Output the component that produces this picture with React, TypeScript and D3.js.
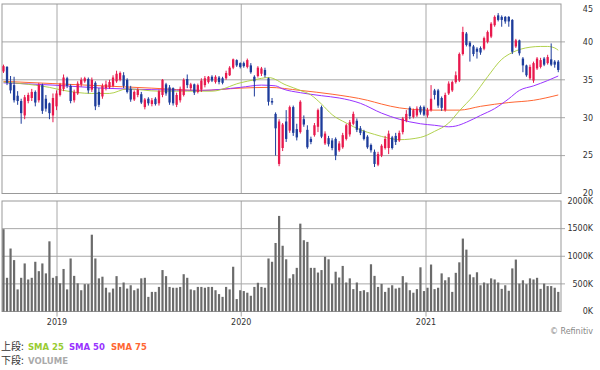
import React from 'react';
import * as d3 from 'd3';

// weekly candles, Sep 2018 - Sep 2021
const opens = [
  36.1, 36.7, 34.6, 34.3, 32.9, 32.2, 30.3, 32.2, 32.6, 33.4,
  32.3, 34.3, 32.5, 31.9, 30.3, 31.5, 33.0, 33.8, 35.2, 34.2,
  32.3, 33.2, 34.4, 34.8, 35.1, 33.7, 34.6, 33.4, 32.8, 33.9,
  34.0, 34.2, 34.8, 35.0, 35.6, 35.0, 33.8, 32.4, 33.0, 33.1,
  31.4, 32.5, 31.8, 32.5, 31.9, 33.0, 34.4, 34.0, 33.9, 31.7,
  32.3, 33.0, 35.1, 33.9, 34.4, 33.4, 33.7, 34.3, 34.7, 35.4,
  34.7, 35.3, 35.2, 35.2, 35.6, 36.6, 37.6, 37.2, 37.2, 36.7,
  36.9, 35.4, 35.5, 35.8, 36.3, 35.2, 32.2, 30.5, 23.9, 26.0,
  29.5, 28.3, 31.4, 28.5, 28.1, 29.8, 28.4, 27.2, 27.7, 28.8,
  31.4, 26.6, 27.3, 27.0, 27.2, 25.7, 26.1, 27.2, 27.8, 29.2,
  29.6, 28.6, 28.2, 27.5, 26.4, 25.5, 23.8, 25.0, 26.0, 26.0,
  27.4, 27.6, 27.0, 28.1, 29.6, 31.3, 30.1, 30.3, 31.4, 31.4,
  30.3, 31.0, 33.6, 33.6, 32.6, 31.0, 33.2, 33.6, 34.7, 34.9,
  38.4, 41.1, 39.9, 39.4, 39.1, 39.2, 39.1, 40.0, 40.7, 42.2,
  43.5, 43.3, 43.3, 43.3, 42.9, 39.4, 40.2, 37.8, 36.9, 35.2,
  34.9, 36.5, 36.7, 37.8, 37.2, 37.7, 37.4, 37.4,
];
const highs = [
  37.0, 36.8, 35.5, 35.4, 33.5, 32.5, 33.0, 33.3, 33.8, 33.6,
  34.6, 34.5, 33.0, 32.0, 33.2, 33.6, 34.6, 35.7, 35.4, 34.4,
  33.7, 34.8, 35.3, 35.4, 35.3, 35.3, 34.8, 33.9, 34.5, 34.9,
  35.0, 35.6, 36.2, 36.1, 36.0, 35.2, 34.2, 33.6, 33.9, 33.4,
  32.6, 32.7, 32.6, 32.7, 33.7, 35.1, 34.6, 34.3, 34.0, 33.3,
  34.1, 35.2, 35.7, 34.6, 34.5, 34.5, 35.2, 35.5, 35.5, 35.6,
  35.6, 35.5, 35.4, 36.2, 36.8, 37.8, 37.7, 37.3, 37.4, 37.8,
  37.2, 35.6, 36.8, 36.7, 36.6, 35.3, 32.6, 30.7, 29.8, 29.3,
  31.0, 31.6, 31.6, 29.2, 32.3, 30.3, 29.0, 27.5, 29.3, 31.2,
  31.6, 28.2, 27.6, 27.3, 27.4, 26.9, 28.0, 29.2, 29.7, 30.8,
  29.9, 28.9, 28.4, 27.7, 26.6, 25.8, 25.5, 26.5, 27.6, 28.3,
  27.6, 28.0, 28.3, 30.1, 31.0, 31.5, 31.2, 31.5, 31.6, 31.6,
  31.3, 34.3, 33.8, 33.8, 32.8, 33.3, 34.8, 34.9, 36.1, 38.6,
  42.0, 41.3, 40.1, 39.6, 39.3, 39.4, 40.7, 41.5, 42.6, 43.5,
  43.8, 43.5, 43.4, 43.4, 43.0, 40.4, 40.3, 38.0, 37.0, 37.0,
  37.4, 38.0, 37.9, 38.0, 38.3, 39.8, 37.6, 37.6,
];
const lows = [
  35.9, 34.3, 33.2, 32.0, 31.7, 29.2, 29.8, 31.9, 32.2, 31.5,
  32.0, 30.5, 30.8, 29.8, 29.4, 31.0, 32.8, 33.5, 33.9, 31.9,
  32.0, 33.0, 34.1, 34.6, 33.2, 33.4, 31.0, 31.4, 32.5, 33.6,
  33.8, 34.0, 34.6, 34.8, 33.9, 33.2, 32.1, 32.2, 32.7, 31.8,
  31.1, 31.6, 31.5, 31.6, 31.6, 32.7, 32.9, 31.7, 31.6, 31.4,
  32.0, 32.8, 33.9, 33.6, 33.0, 33.2, 33.4, 34.0, 34.5, 34.7,
  34.5, 34.4, 34.4, 35.0, 35.5, 36.4, 36.7, 36.5, 36.6, 36.5,
  35.8, 32.8, 35.3, 35.5, 35.3, 31.6, 31.7, 25.0, 23.6, 25.6,
  26.8, 28.0, 27.6, 27.0, 27.9, 28.8, 25.9, 26.5, 27.5, 28.1,
  27.3, 26.4, 26.2, 25.7, 24.4, 25.5, 25.9, 27.0, 27.5, 29.0,
  28.1, 27.7, 27.0, 25.9, 25.4, 23.5, 23.6, 24.8, 25.8, 25.2,
  25.8, 26.4, 26.8, 27.8, 29.4, 29.8, 29.9, 30.1, 30.4, 30.2,
  30.0, 30.8, 32.4, 31.3, 30.9, 30.8, 33.0, 33.4, 34.5, 34.7,
  38.2, 39.4, 37.4, 38.1, 37.8, 38.3, 38.9, 39.8, 40.5, 42.0,
  42.7, 42.0, 42.4, 42.0, 38.4, 39.2, 38.2, 36.0, 35.4, 35.0,
  34.6, 36.3, 36.5, 36.8, 37.0, 36.8, 36.6, 36.0,
];
const closes = [
  36.8, 34.6, 33.6, 32.3, 32.2, 30.6, 32.7, 33.0, 33.4, 32.0,
  34.3, 30.9, 31.2, 30.6, 32.6, 33.2, 34.4, 35.3, 34.2, 32.2,
  33.4, 34.5, 35.0, 35.2, 33.6, 35.0, 31.5, 31.7, 34.2, 34.4,
  34.7, 35.3, 35.8, 35.9, 34.2, 33.4, 32.4, 33.4, 33.7, 32.0,
  32.4, 31.9, 32.3, 31.8, 33.5, 35.0, 33.2, 32.0, 31.9, 33.0,
  33.8, 35.0, 34.3, 34.4, 33.3, 34.3, 34.9, 35.2, 35.4, 34.9,
  35.4, 34.7, 34.6, 35.9, 36.6, 37.7, 36.9, 36.7, 36.8, 37.6,
  36.0, 34.8, 36.6, 36.5, 35.6, 32.1, 32.0, 28.6, 29.5, 29.1,
  27.2, 31.4, 28.0, 27.4, 32.1, 29.1, 26.1, 26.8, 29.0, 31.0,
  27.5, 27.9, 26.5, 26.0, 25.0, 26.6, 27.7, 29.0, 29.4, 30.5,
  28.4, 28.0, 27.2, 26.1, 25.7, 23.9, 25.2, 26.3, 27.2, 27.9,
  26.0, 26.8, 28.0, 29.9, 30.5, 30.2, 31.0, 31.2, 30.7, 30.4,
  31.0, 32.5, 33.0, 31.6, 31.3, 33.0, 34.5, 34.7, 35.6, 38.4,
  41.3, 39.6, 39.4, 38.4, 38.7, 38.6, 40.5, 41.3, 42.4, 43.3,
  42.9, 42.9, 42.7, 42.7, 38.7, 40.2, 38.5, 36.9, 35.6, 36.7,
  37.2, 37.8, 37.6, 37.0, 38.0, 37.0, 37.0, 36.3,
];
// volume in thousands of shares
const volumes = [
  1490, 610, 1140, 930, 400, 610, 870, 580, 610, 900,
  730, 870, 690, 1270, 610, 640, 510, 770, 400, 960,
  645, 510, 385, 495, 495, 1390, 960, 600, 630, 430,
  345, 415, 640, 445, 525, 415, 475, 385, 415, 600,
  610, 265, 355, 355, 445, 750, 640, 445, 430, 430,
  445, 675, 610, 400, 385, 445, 445, 430, 445, 445,
  385, 315, 265, 445, 400, 810, 225, 385, 370, 340,
  285, 445, 520, 445, 430, 960, 900, 1240, 1730, 1190,
  945, 600, 675, 790, 1590, 1290, 1260, 790, 790, 705,
  750, 990, 945, 505, 720, 615, 825, 525, 600, 405,
  525, 370, 385, 350, 855, 645, 445, 500, 355, 430,
  475, 415, 430, 640, 525, 385, 340, 405, 800, 370,
  430, 850, 405, 430, 690, 565, 620, 355, 700, 890,
  1320, 1120, 670, 620, 710, 475, 525, 505, 600, 580,
  525, 410, 475, 375, 780, 940, 505, 565, 495, 600,
  580, 610, 410, 505, 460, 460, 430, 355,
];

// moving averages: [week index, value]
const sma25 = [
  [0, 34.7], [5, 34.5], [13, 34.0], [17, 33.6], [25, 33.2], [30, 33.2],
  [35, 33.8], [44, 33.5], [52, 33.5], [59, 33.5], [67, 34.6], [71, 35.0],
  [75, 35.3], [80, 34.3], [84, 33.6], [87, 33.0], [90, 31.8], [93, 30.4],
  [97, 29.3], [101, 28.4], [105, 27.8], [109, 27.3], [112, 27.1], [118, 27.4],
  [122, 28.2], [126, 29.3], [129, 30.9], [133, 32.9], [137, 35.4], [141, 37.7],
  [144, 38.6], [149, 39.3], [152, 39.4], [154, 39.4], [156, 39.2], [157, 38.9],
];
const sma50 = [
  [0, 34.6], [14, 34.3], [28, 33.9], [42, 33.7], [56, 33.6], [67, 34.0],
  [73, 34.3], [77, 34.2], [79, 33.8], [84, 33.3], [90, 32.9], [95, 32.6],
  [101, 31.9], [107, 30.6], [112, 29.8], [118, 29.2], [122, 29.0], [126, 28.8],
  [128, 28.9], [131, 29.4], [135, 30.3], [139, 31.2], [143, 32.5], [146, 33.6],
  [150, 34.2], [154, 34.9], [157, 35.5],
];
const sma75 = [
  [0, 34.8], [14, 34.5], [28, 34.2], [42, 33.9], [56, 33.6], [67, 33.9],
  [75, 34.0], [84, 33.6], [93, 33.1], [103, 32.3], [107, 31.8], [112, 31.3],
  [121, 31.0], [129, 31.0], [135, 31.5], [143, 32.0], [150, 32.3], [157, 33.0],
];

const priceTicks = [20, 25, 30, 35, 40, 45];
const volumeTicks = [0, 500, 1000, 1500, 2000];
const yearTicks = [2019, 2020, 2021];

const weeks = d3.timeMonday.range(new Date(2018, 8, 17), new Date(2021, 8, 21));

const RED = '#e8194d';
const BLUE = '#1d3c9b';
const GRID = '#a8a8a8';
const FONT = 'DejaVu Sans, Verdana, sans-serif';

export default function App() {
  const left = 2;
  const right = 561;
  const x = d3.scaleTime()
    .domain([new Date(2019, 0, 1), new Date(2021, 0, 1)])
    .range([57, 426]);
  const yP = d3.scaleLinear().domain([20, 45]).range([193.5, 4]);
  const yV = d3.scaleLinear().domain([0, 2000]).range([311.5, 201]);

  const smaLine = d3.line<number[]>()
    .x(d => x(weeks[d[0]]))
    .y(d => yP(d[1]))
    .curve(d3.curveMonotoneX);

  const bodyW = 2.3;

  return (
    <svg width={600} height={370} style={{ position: 'absolute', left: 0, top: 0, background: '#fff' }}>
      {/* grid */}
      {priceTicks.filter(t => t > 20 && t < 45).map(t => (
        <line key={'pg' + t} x1={left} x2={right + 4} y1={yP(t)} y2={yP(t)} stroke={GRID} strokeWidth={1} />
      ))}
      {volumeTicks.filter(t => t > 0 && t < 2000).map(t => (
        <line key={'vg' + t} x1={left} x2={right + 4} y1={yV(t)} y2={yV(t)} stroke={GRID} strokeWidth={1} />
      ))}
      {yearTicks.map(yr => {
        const xx = x(new Date(yr, 0, 1));
        return (
          <g key={'yr' + yr}>
            <line x1={xx} x2={xx} y1={yP(45)} y2={yP(20)} stroke={GRID} strokeWidth={1} />
            <line x1={xx} x2={xx} y1={yV(2000)} y2={yV(0) + 5} stroke={GRID} strokeWidth={1} />
          </g>
        );
      })}
      {/* frames */}
      <rect x={left} y={yP(45)} width={right - left} height={yP(20) - yP(45)} fill="none" stroke="#999" strokeWidth={1} />
      <rect x={left} y={yV(2000)} width={right - left} height={yV(0) - yV(2000)} fill="none" stroke="#999" strokeWidth={1} />

      {/* moving averages */}
      <path d={smaLine(sma75) || ''} fill="none" stroke="#ff6633" strokeWidth={1} />
      <path d={smaLine(sma50) || ''} fill="none" stroke="#9933ff" strokeWidth={1} />
      <path d={smaLine(sma25) || ''} fill="none" stroke="#a8cc3a" strokeWidth={0.9} />

      {/* candles */}
      {weeks.map((w, i) => {
        const cx = x(w);
        const up = closes[i] >= opens[i];
        const col = up ? RED : BLUE;
        const top = yP(Math.max(opens[i], closes[i]));
        const bot = yP(Math.min(opens[i], closes[i]));
        return (
          <g key={'c' + i}>
            <line x1={cx} x2={cx} y1={yP(highs[i])} y2={yP(lows[i])} stroke={col} strokeWidth={1} />
            <rect x={cx - bodyW / 2} y={top} width={bodyW} height={Math.max(1, bot - top)} fill={col} />
          </g>
        );
      })}

      {/* volume */}
      {weeks.map((w, i) => (
        <rect key={'v' + i} x={x(w) - 1.1} y={yV(volumes[i])} width={2.2}
          height={yV(0) - yV(volumes[i])} fill="#6b6b6b" />
      ))}

      {/* axis labels */}
      {priceTicks.map(t => (
        <text key={'pl' + t} x={593} y={Math.max(yP(t), 9)} dy="0.35em" textAnchor="end"
          fontFamily={FONT} fontSize={8} fill="#333">{t}</text>
      ))}
      {volumeTicks.map(t => (
        <text key={'vl' + t} x={593} y={yV(t)} dy="0.35em" textAnchor="end"
          fontFamily={FONT} fontSize={8} fill="#333">{t + 'K'}</text>
      ))}
      {yearTicks.map(yr => (
        <text key={'yl' + yr} x={x(new Date(yr, 0, 1))} y={325} textAnchor="middle"
          fontFamily={FONT} fontSize={8} fill="#333">{yr}</text>
      ))}
      <text x={593} y={333.5} textAnchor="end" fontFamily={FONT} fontSize={8} fill="#888">© Refinitiv</text>

      {/* legend */}
      <text x={1} y={349.5} fontFamily="Noto Sans CJK JP, sans-serif" fontSize={10} fill="#333">上段:</text>
      <text x={28} y={349.5} fontFamily={FONT} fontSize={8.5} fontWeight="bold" fill="#99cc33">SMA 25</text>
      <text x={69} y={349.5} fontFamily={FONT} fontSize={8.5} fontWeight="bold" fill="#9933ff">SMA 50</text>
      <text x={111} y={349.5} fontFamily={FONT} fontSize={8.5} fontWeight="bold" fill="#ff6633">SMA 75</text>
      <text x={1} y={364} fontFamily="Noto Sans CJK JP, sans-serif" fontSize={10} fill="#333">下段:</text>
      <text x={28} y={364} fontFamily={FONT} fontSize={8.5} fontWeight="bold" fill="#aaaaaa">VOLUME</text>
    </svg>
  );
}
